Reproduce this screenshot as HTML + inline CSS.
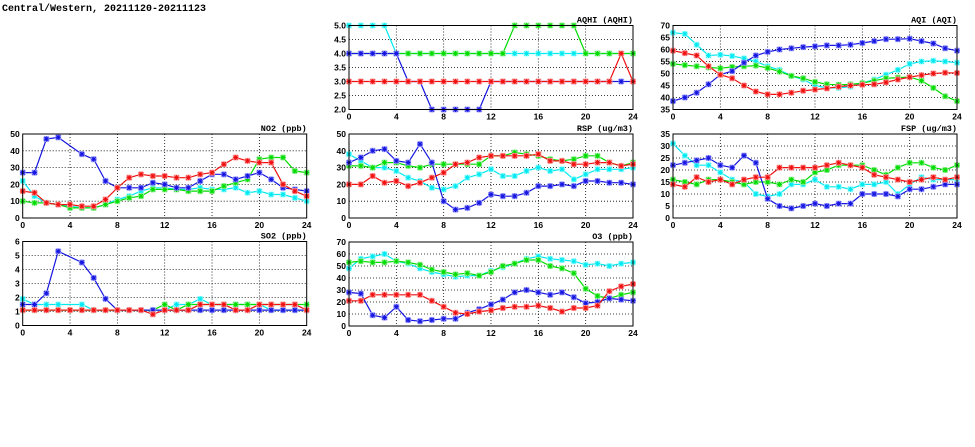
<!DOCTYPE html>
<html><head><meta charset="utf-8"><style>
html,body{margin:0;padding:0;background:#fff}
svg{display:block}
text{font-family:"Liberation Sans",sans-serif;font-weight:bold;font-size:8.5px;fill:#000}
.ttl{font-family:"Liberation Mono",monospace;font-size:8.5px}
.main{font-family:"Liberation Mono",monospace;font-size:10px}
</style></head><body>
<svg id="c" width="975" height="447" viewBox="0 0 975 447">
<text class="main" x="2" y="11">Central/Western, 20211120-20211123</text>
</svg>
<script>
const hours = [0,1,2,3,4,5,6,7,8,9,10,11,12,13,14,15,16,17,18,19,20,21,22,23,24];
const xTicks = [0,4,8,12,16,20,24];
const seriesNames = ["cyan","green","blue","red"];
const seriesColors = {cyan:"#00e8f0",green:"#00dd00",blue:"#1515e0",red:"#f01010"};
const haloColors = {cyan:"#a0ffff",green:"#a0f0a0",blue:"#a0a0ff",red:"#ffa0a0"};

const aqhiCyan = [5,5,5,5,4,4,4,4,4,4,4,4,4,4,4,4,4,4,4,4,4,4,4,4,4];
const aqhiGreen = [4,4,4,4,4,4,4,4,4,4,4,4,4,4,5,5,5,5,5,5,4,4,4,4,4];
const aqhiBlue = [4,4,4,4,4,3,3,2,2,2,2,2,3,3,3,3,3,3,3,3,3,3,3,3,3];
const aqhiRed = [3,3,3,3,3,3,3,3,3,3,3,3,3,3,3,3,3,3,3,3,3,3,3,4,3];

const aqiCyan = [67,66.5,62,57.5,57.8,57.3,56.3,55,53,51.5,49,47.5,45,44,44,44.5,46,47.5,49.5,51.5,54,55,55.3,55,54.5];
const aqiGreen = [54,53.5,53,52.5,52.2,52.7,53,53.3,52.3,50.8,49,48,46.5,45.5,45.3,45.5,46,47,48,48.3,48.5,47,44,40.5,38.5];
const aqiBlue = [38.5,40,42,45.5,49.5,51,54.5,57.5,59,60,60.5,61,61.3,61.7,61.7,62,62.7,63.5,64.3,64.3,64.5,63.5,62.5,60.5,59.5];
const aqiRed = [59.5,58.5,57.5,53,49.5,48,45,42.5,41.3,41.3,42,42.8,43.3,43.8,44.5,45,45.3,45.5,46.3,47.5,48.5,49.3,50,50.3,50.2];

const no2Cyan = [22,13,9,8,7,6,6,8,11,13,16,18,18,17,17,18,17,17,18,15,16,14,14,12,10];
const no2Green = [10,9,9,8,6,6,6,8,10,12,13,17,17,17,16,16,16,19,21,23,35,36,36,28,27];
const no2Blue = [27,27,47,48,null,38,35,22,18,18,18,21,20,18,18,22,26,26,23,25,27,23,18,17,16];
const no2Red = [16,15,9,8,8,7,7,11,18,24,26,25,25,24,24,26,27,32,36,34,33,33,20,16,13];

const rspCyan = [38,34,30,30,28,24,22,18,17,19,24,26,29,25,25,28,30,28,29,23,26,29,29,29,30];
const rspGreen = [31,31,30,33,33,31,30,32,32,32,32,32,37,37,39,38,37,35,34,35,37,37,33,31,33];
const rspBlue = [33,36,40,41,34,33,44,33,10,5,6,9,14,13,13,15,19,19,20,19,22,22,21,21,20];
const rspRed = [20,20,25,21,22,19,21,24,27,32,33,36,37,37,37,37,38,34,34,32,32,33,33,31,32];

const fspCyan = [31,26,22,22,19,16,15,10,9,10,14,14,16,13,13,12,14,14,15,10,14,17,16,16,16];
const fspGreen = [16,15,14,16,16,15,14,15,15,14,16,15,19,20,22,22,22,20,18,21,23,23,21,20,22];
const fspBlue = [22,23,24,25,22,21,26,23,8,5,4,5,6,5,6,6,10,10,10,9,12,12,13,14,14];
const fspRed = [14,13,17,15,16,14,16,17,17,21,21,21,21,22,23,22,21,18,17,16,15,16,17,16,17];

const so2Cyan = [1.9,1.5,1.5,1.5,null,1.5,1.1,1.1,1.1,1.1,1.1,1.1,1.1,1.5,1.5,1.9,1.5,1.5,1.5,1.5,1.5,1.1,1.1,1.1,1.1];
const so2Green = [1.1,1.1,1.1,1.1,1.1,1.1,1.1,1.1,1.1,1.1,1.1,1.1,1.5,1.1,1.5,1.5,1.5,1.5,1.5,1.5,1.5,1.5,1.5,1.5,1.5];
const so2Blue = [1.5,1.5,2.3,5.3,null,4.5,3.4,1.9,1.1,1.1,1.1,1.1,1.1,1.1,1.1,1.1,1.1,1.1,1.1,1.1,1.1,1.1,1.1,1.1,1.1];
const so2Red = [1.1,1.1,1.1,1.1,1.1,1.1,1.1,1.1,1.1,1.1,1.1,0.8,1.1,1.1,1.1,1.5,1.5,1.5,1.1,1.1,1.5,1.5,1.5,1.5,1.1];

const o3Cyan = [48,56,58,60,54,52,48,45,43,41,42,42,46,49,52,56,58,56,55,54,51,52,50,52,53];
const o3Green = [53,54,53,53,54,53,51,47,45,43,44,42,45,50,52,55,55,50,48,44,31,25,23,26,28];
const o3Blue = [28,27,9,7,16,5,4,5,6,6,11,14,18,22,28,30,28,26,28,24,19,20,23,22,21];
const o3Red = [21,21,26,26,26,26,26,21,16,11,10,12,13,15,16,16,17,15,12,15,15,17,29,33,35];

const aqhiTicks = [2,2.5,3,3.5,4,4.5,5];
const aqiTicks = [35,40,45,50,55,60,65,70];
const no2Ticks = [0,10,20,30,40,50];
const rspTicks = [0,10,20,30,40,50];
const fspTicks = [0,5,10,15,20,25,30,35];
const so2Ticks = [0,1,2,3,4,5,6];
const o3Ticks = [0,10,20,30,40,50,60,70];

const NS="http://www.w3.org/2000/svg";
const svg=document.getElementById('c');
function mk(tag,attrs,parent){const e=document.createElementNS(NS,tag);for(const k in attrs)e.setAttribute(k,attrs[k]);(parent||svg).appendChild(e);return e;}

function panel(key,title,px,py,ticks,dec,data){
  const W=284,H=84;
  const g=mk('g',{});
  
  
  const lo=ticks[0],hi=ticks[ticks.length-1];
  const xs=h=>px+h/24*W;
  const ys=v=>py+H-(v-lo)/(hi-lo)*H;
  ticks.forEach(t=>{
    const y=ys(t);
    if(t!==lo&&t!==hi){const l=mk('line',{x1:px,x2:px+W,y1:y,y2:y,stroke:'#000','stroke-width':0.8,'stroke-dasharray':'1,2'},g);
      }
    const tx=mk('text',{x:px-3,y:y+3,'text-anchor':'end'},g);tx.textContent=dec?t.toFixed(1):t;
    
  });
  xTicks.forEach(t=>{
    const x=xs(t);
    if(t!==0&&t!==24){const l=mk('line',{x1:x,x2:x,y1:py,y2:py+H,stroke:'#000','stroke-width':0.8,'stroke-dasharray':'1,2'},g);
      }
    const tx=mk('text',{x:x,y:py+H+10,'text-anchor':'middle'},g);tx.textContent=t;
    
  });
  const tt=mk('text',{x:px+W,y:py-3,'text-anchor':'end',class:'ttl'},g);tt.textContent=title;
  
  const cp=mk('clipPath',{id:'cp'+key},g);mk('rect',{x:px-3,y:py-3,width:W+6,height:H+6},cp);
  const sg=mk('g',{'clip-path':'url(#cp'+key+')'},g);
  data.forEach((arr,i)=>{
    const nm=seriesNames[i],col=seriesColors[nm],halo=haloColors[nm];
    const pts=[];arr.forEach((v,h)=>{if(v!==null)pts.push([xs(hours[h]),ys(v)]);});
    const d=pts.map((p,j)=>(j?'L':'M')+p[0].toFixed(1)+','+p[1].toFixed(1)).join('');
    const ln=mk('path',{d:d,fill:'none',stroke:col,'stroke-width':1.2},sg);
    
    pts.forEach(p=>{
      const [x,y]=p;
      const m=mk('path',{d:`M${x-3},${y}h6M${x},${y-3}v6M${x-2.5},${y-2.5}l5,5M${x-2.5},${y+2.5}l5,-5`,stroke:halo,'stroke-width':2.2,fill:'none'},sg);
      
      const m2=mk('path',{d:`M${x-2.5},${y}h5M${x},${y-2.5}v5M${x-2},${y-2}l4,4M${x-2},${y+2}l4,-4`,stroke:col,'stroke-width':1,fill:'none'},sg);
      
    });
  });
  const b=mk('rect',{x:px,y:py,width:W,height:H,fill:'none',stroke:'#000','stroke-width':1},g);
  
}
panel('aqhi','AQHI (AQHI)',349,25.5,aqhiTicks,true,[aqhiCyan,aqhiGreen,aqhiBlue,aqhiRed]);
panel('aqi','AQI (AQI)',673,25.5,aqiTicks,false,[aqiCyan,aqiGreen,aqiBlue,aqiRed]);
panel('no2','NO2 (ppb)',22.7,134,no2Ticks,false,[no2Cyan,no2Green,no2Blue,no2Red]);
panel('rsp','RSP (ug/m3)',349,134,rspTicks,false,[rspCyan,rspGreen,rspBlue,rspRed]);
panel('fsp','FSP (ug/m3)',673,134,fspTicks,false,[fspCyan,fspGreen,fspBlue,fspRed]);
panel('so2','SO2 (ppb)',22.7,241.5,so2Ticks,false,[so2Cyan,so2Green,so2Blue,so2Red]);
panel('o3','O3 (ppb)',349,242,o3Ticks,false,[o3Cyan,o3Green,o3Blue,o3Red]);
</script>
</body></html>
